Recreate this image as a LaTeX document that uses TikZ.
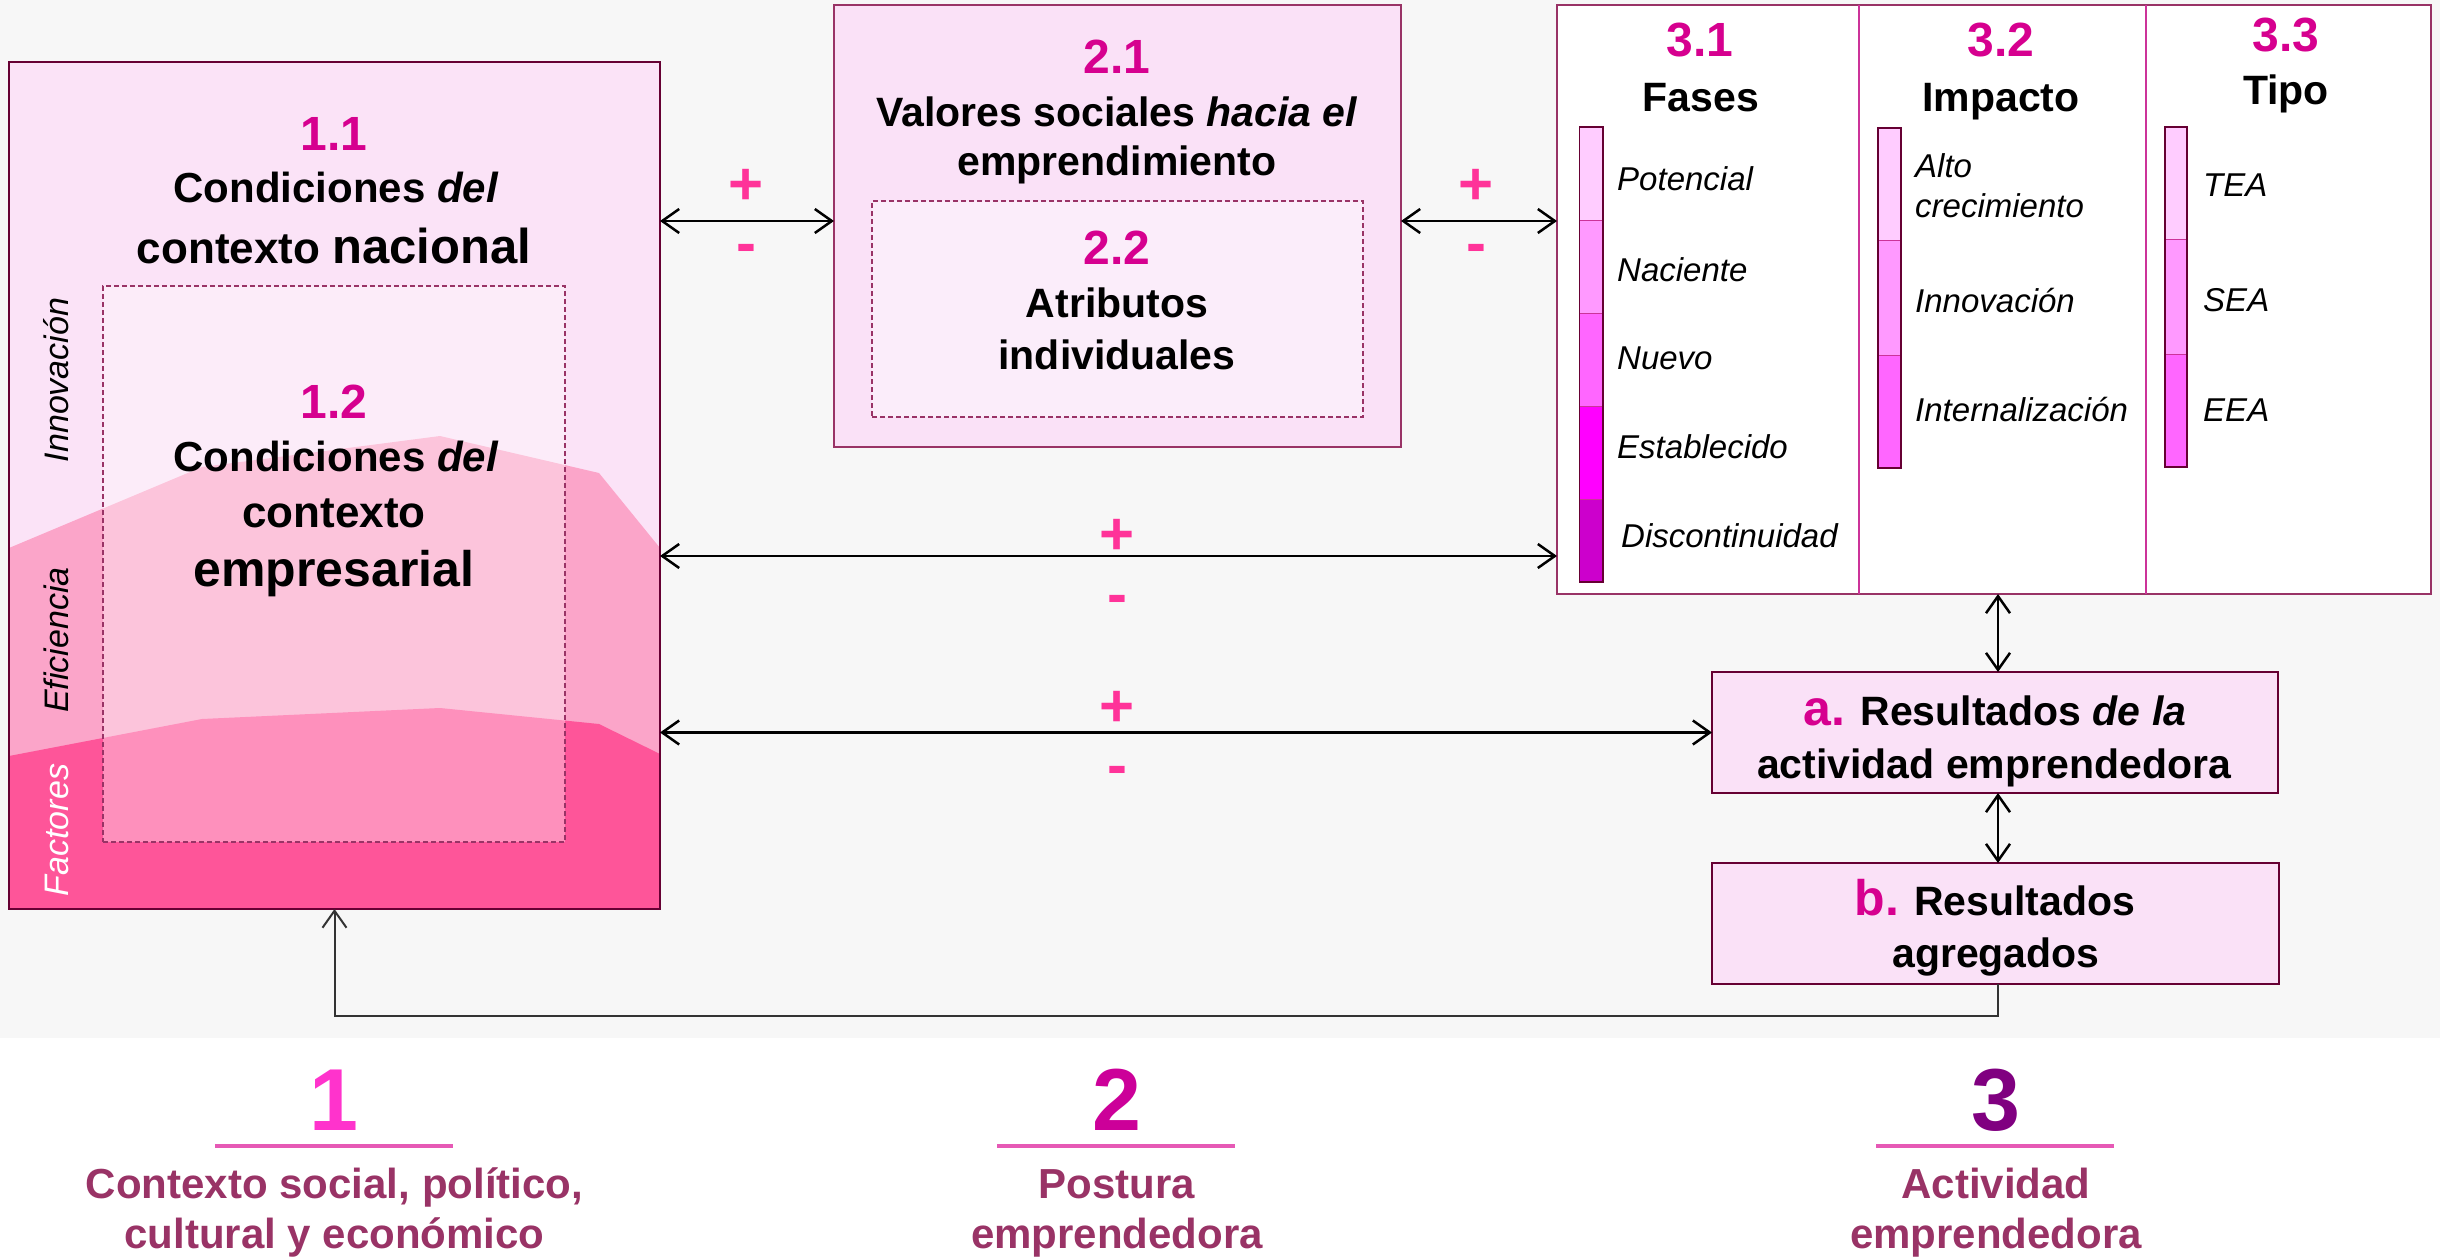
\documentclass[tikz,border=0pt]{standalone}
\usepackage{fontspec}
\setmainfont{Liberation Sans}
\usetikzlibrary{arrows.meta}
\newcommand\fsz[1]{\fontsize{#1}{#1}\selectfont}
\definecolor{bggray}{HTML}{F7F7F7}
\definecolor{layA}{HTML}{FBE3F7}
\definecolor{layB}{HTML}{FBA5C9}
\definecolor{layC}{HTML}{FE5599}
\definecolor{boxfill}{HTML}{FAE1F7}
\definecolor{innerfill}{HTML}{FBEDFA}
\definecolor{framec}{HTML}{660033}
\definecolor{dashc}{HTML}{993366}
\definecolor{divc}{HTML}{CC3399}
\definecolor{numc}{HTML}{D6008F}
\definecolor{signc}{HTML}{FF3399}
\definecolor{cOne}{HTML}{FF33CC}
\definecolor{cTwo}{HTML}{CC0099}
\definecolor{cThree}{HTML}{800080}
\definecolor{botc}{HTML}{993366}
\definecolor{ulc}{HTML}{E659B5}
\definecolor{barA}{HTML}{FFCCFF}
\definecolor{barB}{HTML}{FF99FF}
\definecolor{barC}{HTML}{FF66FF}
\definecolor{barD}{HTML}{FF00FF}
\definecolor{barE}{HTML}{CC00CC}
\begin{document}
\begin{tikzpicture}[x=1pt,y=-1pt,
  txt/.style={inner sep=0pt, outer sep=0pt, anchor=base},
  num/.style={txt, text=numc, font=\bfseries\fsz{48}},
  ttl/.style={txt, font=\bfseries\fsz{41}},
  lbl/.style={inner sep=0pt, anchor=base west, font=\itshape\fsz{33}},
  sgn/.style={txt, text=signc, font=\bfseries\fsz{60}},
  boxnode/.style={inner sep=0pt, outer sep=0pt, line width=2pt},
  dashbox/.style={inner sep=0pt, outer sep=0pt, draw=dashc, line width=1.5pt, dash pattern=on 5pt off 3pt},
  arr/.style={line width=2.5pt, {Straight Barb[length=17pt,width=24pt]}-{Straight Barb[length=17pt,width=24pt]}},
  botlbl/.style={txt, text=botc, font=\bfseries\fsz{42}},
  seg/.style={draw=divc, line width=1pt},
  vlab/.style={inner sep=0pt, anchor=base, rotate=90, font=\itshape\fsz{34}}
]
\useasboundingbox (0,0) rectangle (2440,1257);
\fill[bggray] (0,0) rectangle (2440,1038);

% ---------- Box 1 ----------
\begin{scope}
\clip (9,62) rectangle (660,909);
\fill[layA] (9,62) rectangle (660,909);
\fill[layB] (9,548) -- (202,467) -- (440,436) -- (599,473) -- (660,548) -- (660,909) -- (9,909) -- cycle;
\fill[layC] (9,756) -- (202,719) -- (440,708) -- (599,724) -- (660,754) -- (660,909) -- (9,909) -- cycle;
\end{scope}
\node[dashbox, fill=white, fill opacity=0.35, minimum width=462pt, minimum height=556pt] (b12) at (334,564) {};
\node[boxnode, draw=framec, minimum width=651pt, minimum height=847pt] (b1) at (334.5,485.5) {};

\node[vlab] (vInn) at (68.5,380) {Innovación};
\node[vlab] (vEfi) at (68.5,640) {Eficiencia};
\node[vlab, text=white] (vFac) at (68.5,830) {Factores};

\node[num] (n11) at (334,151) {1.1};
\node[txt, font=\bfseries\fsz{42}] (t11a) at (336,203) {Condiciones \textit{del}};
\node[txt, font=\bfseries\fsz{44}] (t11b) at (334,263) {contexto {\fsz{49}nacional}};
\node[num] (n12) at (334,418) {1.2};
\node[txt, font=\bfseries\fsz{42}] (t12a) at (336,471) {Condiciones \textit{del}};
\node[txt, font=\bfseries\fsz{44}] (t12b) at (334,527) {contexto};
\node[txt, font=\bfseries\fsz{50}] (t12c) at (334,586) {empresarial};

% ---------- Box 2 ----------
\node[boxnode, draw=dashc, fill=boxfill, minimum width=567pt, minimum height=442pt] (b2) at (1117.5,226) {};
\node[dashbox, fill=innerfill, minimum width=491pt, minimum height=216pt] (b22) at (1117.5,309) {};
\node[num] (n21) at (1117,74) {2.1};
\node[ttl] (t21a) at (1117,127) {Valores sociales \textit{hacia el}};
\node[ttl] (t21b) at (1117,176) {emprendimiento};
\node[num] (n22) at (1117,265) {2.2};
\node[ttl] (t22a) at (1117,317) {Atributos};
\node[ttl] (t22b) at (1117,369) {individuales};

% ---------- Box 3 ----------
\node[boxnode, draw=dashc, fill=white, minimum width=874pt, minimum height=589pt] (b3) at (1994,299.5) {};
\draw[divc, line width=1.5pt] (b3.north -| 1859,0) -- (b3.south -| 1859,0);
\draw[divc, line width=1.5pt] (b3.north -| 2146,0) -- (b3.south -| 2146,0);

\node[num] (n31) at (1700,57) {3.1};
\node[ttl] (t31) at (1701,112) {Fases};
\node[num] (n32) at (2001,57) {3.2};
\node[ttl] (t32) at (2001,112) {Impacto};
\node[num] (n33) at (2286,52) {3.3};
\node[ttl] (t33) at (2286,105) {Tipo};

% bars col 1
\filldraw[seg, fill=barA] (1579.5,127) rectangle (1603,221);
\filldraw[seg, fill=barB] (1579.5,221) rectangle (1603,313);
\filldraw[seg, fill=barC] (1579.5,313) rectangle (1603,406);
\filldraw[seg, fill=barD] (1579.5,406) rectangle (1603,499);
\filldraw[seg, fill=barE] (1579.5,499) rectangle (1603,582);
\draw[framec, line width=1.5pt] (1579.5,127) rectangle (1603,582);
% bars col 2
\filldraw[seg, fill=barA] (1878,128) rectangle (1901,241);
\filldraw[seg, fill=barB] (1878,241) rectangle (1901,355);
\filldraw[seg, fill=barC] (1878,355) rectangle (1901,468);
\draw[framec, line width=1.5pt] (1878,128) rectangle (1901,468);
% bars col 3
\filldraw[seg, fill=barA] (2165,127) rectangle (2187,240);
\filldraw[seg, fill=barB] (2165,240) rectangle (2187,354);
\filldraw[seg, fill=barC] (2165,354) rectangle (2187,467);
\draw[framec, line width=1.5pt] (2165,127) rectangle (2187,467);

\node[lbl] (lPot) at (1617,191) {Potencial};
\node[lbl] (lNac) at (1617,281) {Naciente};
\node[lbl] (lNue) at (1617,369) {Nuevo};
\node[lbl] (lEst) at (1617,458) {Establecido};
\node[lbl] (lDis) at (1621,547) {Discontinuidad};
\node[lbl] (lAlt) at (1915,178) {Alto};
\node[lbl] (lCre) at (1915,218) {crecimiento};
\node[lbl] (lInn) at (1915,312) {Innovación};
\node[lbl] (lInt) at (1915,421) {Internalización};
\node[lbl] (lTEA) at (2203,197) {TEA};
\node[lbl] (lSEA) at (2203,311) {SEA};
\node[lbl] (lEEA) at (2203,421) {EEA};

% ---------- Boxes a, b ----------
\node[boxnode, draw=framec, fill=boxfill, minimum width=566pt, minimum height=121pt] (ba) at (1995,732.5) {};
\node[boxnode, draw=framec, fill=boxfill, minimum width=567pt, minimum height=121pt] (bb) at (1995.5,923.5) {};
\node[ttl] (ta1) at (1995,725) {{\color{numc}\fsz{50}a.} Resultados \textit{de la}};
\node[ttl] (ta2) at (1994,778) {actividad emprendedora};
\node[ttl] (tb1) at (1995,915) {{\color{numc}\fsz{50}b.} Resultados};
\node[ttl] (tb2) at (1996,967) {agregados};

% ---------- Connectors ----------
\draw[arr] (b1.east |- 0,221) -- (b2.west |- 0,221);
\draw[arr] (b2.east |- 0,221) -- (b3.west |- 0,221);
\draw[arr] (b1.east |- 0,556) -- (b3.west |- 0,556);
\draw[arr] (b1.east |- 0,732.5) -- (ba.west);
\draw[arr] (b3.south -| 1998,0) -- (ba.north -| 1998,0);
\draw[arr] (ba.south -| 1998,0) -- (bb.north -| 1998,0);
\coordinate (fbc) at (334.5,1016);
\draw[line width=2pt, black!80, -{Straight Barb[length=17pt,width=24pt]}] (bb.south -| 1998,0) |- (fbc) -- (b1.south);

\node[sgn] (p1) at (746,205) {+};
\node[sgn] (m1) at (746,264) {-};
\node[sgn] (p2) at (1476,205) {+};
\node[sgn] (m2) at (1476,264) {-};
\node[sgn] (p3) at (1117,554) {+};
\node[sgn] (m3) at (1117,614) {-};
\node[sgn] (p4) at (1117,726) {+};
\node[sgn] (m4) at (1117,785) {-};

% ---------- Bottom legend ----------
\node[txt, text=cOne, font=\bfseries\fsz{88}] (k1) at (334,1130) {1};
\node[txt, text=cTwo, font=\bfseries\fsz{88}] (k2) at (1117,1130) {2};
\node[txt, text=cThree, font=\bfseries\fsz{88}] (k3) at (1996,1130) {3};
\draw[ulc, line width=4pt] (215,1146) -- (453,1146);
\draw[ulc, line width=4pt] (997,1146) -- (1235,1146);
\draw[ulc, line width=4pt] (1876,1146) -- (2114,1146);
\node[botlbl] (k1a) at (334.5,1198) {Contexto social, político,};
\node[botlbl] (k1b) at (334.5,1248) {cultural y económico};
\node[botlbl] (k2a) at (1117,1198) {Postura};
\node[botlbl] (k2b) at (1117,1248) {emprendedora};
\node[botlbl] (k3a) at (1996,1198) {Actividad};
\node[botlbl] (k3b) at (1996,1248) {emprendedora};
\end{tikzpicture}
\end{document}
